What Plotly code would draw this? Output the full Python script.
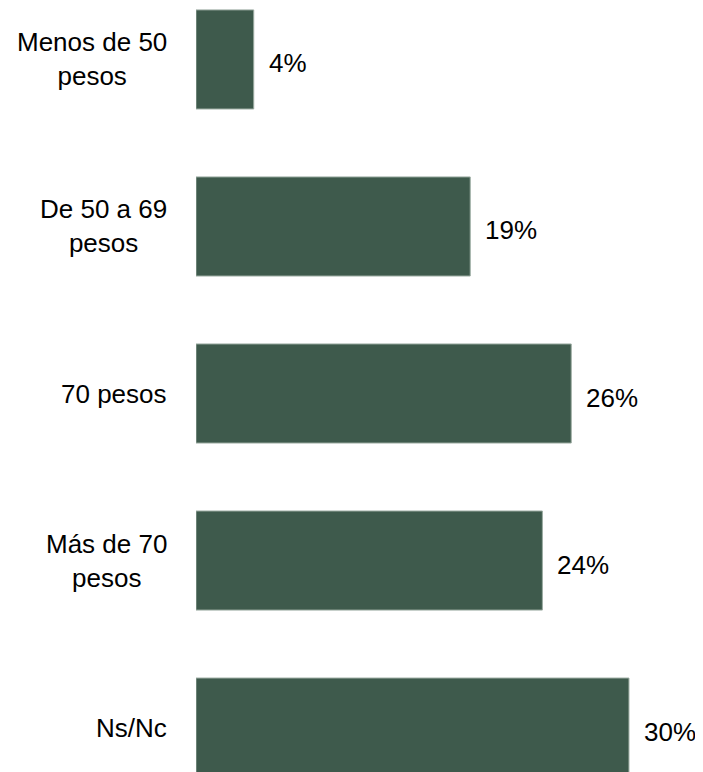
import plotly.graph_objects as go

categories = ["Menos de 50<br>pesos", "De 50 a 69<br>pesos", "70 pesos", "Más de 70<br>pesos", "Ns/Nc"]
values = [4, 19, 26, 24, 30]
value_labels = ["4%", "19%", "26%", "24%", "30%"]

FONT = "Liberation Sans Narrow, Arial Narrow, Liberation Sans, Arial, sans-serif"

fig = go.Figure(go.Bar(
    x=values,
    y=list(range(len(categories))),
    orientation="h",
    width=0.593,
    marker=dict(color="#3e5a4c", line=dict(color="#9aaaa0", width=1)),
    hoverinfo="skip",
))

annotations = []
for i, (cat, v, lab) in enumerate(zip(categories, values, value_labels)):
    annotations.append(dict(
        x=0, xref="paper", y=i, yref="y", text=cat, showarrow=False,
        xanchor="right", yanchor="middle", align="center", xshift=-27,
        font=dict(family=FONT, size=26, color="#000000"),
    ))
    annotations.append(dict(
        x=v, xref="x", y=i, yref="y", text=lab, showarrow=False,
        xanchor="left", yanchor="middle", xshift=13, yshift=-4,
        font=dict(family=FONT, size=26, color="#000000"),
    ))

fig.update_layout(
    width=695, height=764,
    margin=dict(l=188, r=0, t=0, b=0),
    paper_bgcolor="white", plot_bgcolor="white",
    showlegend=False,
    annotations=annotations,
    xaxis=dict(range=[0, 35.13], visible=False, fixedrange=True),
    yaxis=dict(range=[4.266, -0.308], visible=False, fixedrange=True),
)

fig.write_html("out.html")
